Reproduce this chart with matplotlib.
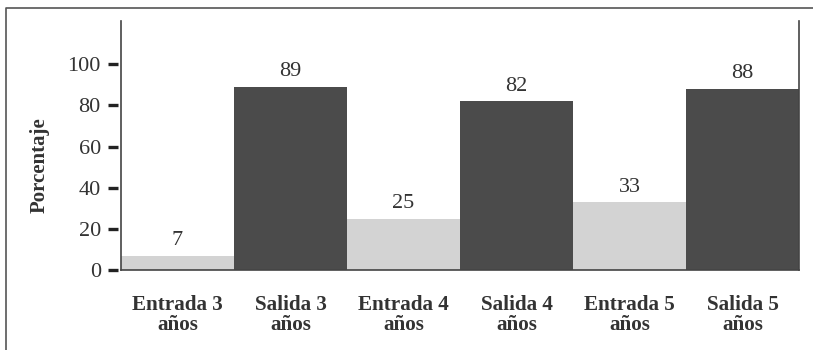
import matplotlib.pyplot as plt
import matplotlib.transforms as mtransforms
from matplotlib.lines import Line2D

# porcentaje por grupo
categorias = ["Entrada 3\naños", "Salida 3\naños", "Entrada 4\naños",
              "Salida 4\naños", "Entrada 5\naños", "Salida 5\naños"]
valores = [7, 89, 25, 82, 33, 88]
colores = ["#d3d3d3", "#4b4b4b", "#d3d3d3", "#4b4b4b", "#d3d3d3", "#4b4b4b"]
yticks = [0, 20, 40, 60, 80, 100]

plt.rcParams["font.family"] = ["Liberation Serif", "DejaVu Serif"]
texto = "#333333"

fig = plt.figure(figsize=(8.13, 3.5), dpi=100)
ax = fig.add_axes([121 / 813, 80 / 350, 678 / 813, 249 / 350])

pos = list(range(len(valores)))
ax.bar(pos, valores, width=1.0, color=colores, zorder=1)
for x, v in zip(pos, valores):
    ax.annotate(str(v), (x, v), xytext=(0, 4), textcoords="offset points",
                ha="center", va="bottom", fontsize=16, color=texto)

ax.set_xlim(-0.5, 5.5)
ax.set_ylim(0, 121)

ax.set_xticks(pos)
ax.set_xticklabels(categorias, fontweight="bold", fontsize=15.2, color=texto,
                   linespacing=1.0)
ax.set_yticks(yticks)
ax.set_yticklabels([str(t) for t in yticks], fontsize=16, color=texto)
ax.tick_params(axis="both", length=0)
ax.tick_params(axis="y", pad=14.5)
ax.tick_params(axis="x", pad=18)

# marcas del eje y separadas del eje
trans = mtransforms.blended_transform_factory(ax.transAxes, ax.transData)
trans = trans + mtransforms.ScaledTranslation(-8.5 / 100, 0, fig.dpi_scale_trans)
ax.plot([0] * len(yticks), yticks, linestyle="none", marker="_",
        markersize=7, markeredgewidth=2.4, color="#222222",
        transform=trans, clip_on=False)

for s in ["left", "right", "bottom"]:
    ax.spines[s].set_color("#444444")
    ax.spines[s].set_linewidth(1.2)
ax.spines["top"].set_visible(False)

fig.text(40 / 813, 1 - 165 / 350, "Porcentaje", rotation=90, ha="center",
         va="center", fontweight="bold", fontsize=15, color=texto)

# marco exterior (solo arriba e izquierda)
fig.add_artist(Line2D([5.5 / 813, 5.5 / 813, 1], [0, 1 - 8 / 350, 1 - 8 / 350],
                      transform=fig.transFigure, color="#555555", linewidth=1.2))

fig.savefig("out.png", dpi=100)
